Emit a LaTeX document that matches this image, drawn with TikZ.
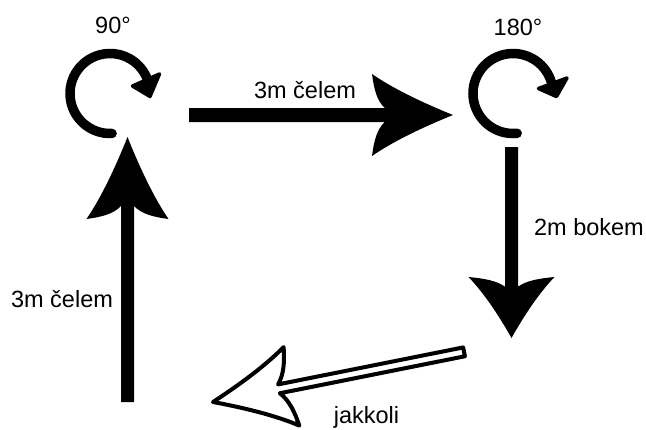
\documentclass[tikz,border=0pt]{standalone}
\usepackage{fontspec}
\setmainfont{Liberation Sans}
\begin{document}
\begin{tikzpicture}[x=1pt,y=-1pt,
  lbl/.style={font=\fontsize{23.5}{28}\selectfont, anchor=base, inner sep=0pt},
  filledarrow/.style={fill=black},
  hollowarrow/.style={draw=black, fill=white, line width=4pt, line join=round},
  turnarc/.style={draw=black, line width=9.5pt, line cap=round},
  turnhead/.style={fill=black, draw=black, line width=3.5pt, line join=round},
  pics/arrowshape/.style n args={4}{code={
    \path[pic actions] (0,0)
      .. controls ({-0.366*#2},{-0.293*#3}) and ({-0.732*#2},{-0.634*#3}) .. ({-#2},{-#3})
      .. controls ({-0.976*#2},{-0.634*#3}) and ({-0.939*#2},{-0.341*#3}) .. ({-0.841*#2},{-#4})
      -- ({-#1},{-#4}) -- ({-#1},{#4}) -- ({-0.841*#2},{#4})
      .. controls ({-0.939*#2},{0.341*#3}) and ({-0.976*#2},{0.634*#3}) .. ({-#2},{#3})
      .. controls ({-0.732*#2},{0.634*#3}) and ({-0.366*#2},{0.293*#3}) .. (0,0) -- cycle;
  }}
]
\fill[white] (0,0) rectangle (646,429);
\useasboundingbox (0,0) rectangle (646,429);

% rotation icons
\coordinate (c90) at (110,93.5);
\coordinate (c180) at (513,93.5);
\draw[turnarc] (c90) ++(87:40) arc[start angle=87, end angle=340, radius=40];
\path[turnhead] (132.5,86) -- (159.5,74) -- (150,96.5) -- cycle;
\draw[turnarc] (c180) ++(84:40) arc[start angle=84, end angle=345, radius=40];
\path[turnhead] (538.5,88.5) -- (567,78) -- (556.5,96.5) -- cycle;

\node[lbl] (deg90) at (113,33) {90°};
\node[lbl] (deg180) at (518,35) {180°};

% arrows (tips)
\coordinate (tipTop) at (453,115);
\coordinate (tipRight) at (511.5,338);
\coordinate (tipLeft) at (127.5,137);
\coordinate (tipBottom) at (213,402);

\pic[filledarrow] at (tipTop) {arrowshape={264}{81}{41}{7}};
\pic[filledarrow, rotate=-90] at (tipRight) {arrowshape={191}{61}{43}{6.5}};
\pic[filledarrow, rotate=90] at (tipLeft) {arrowshape={265}{82}{41}{6.5}};
\pic[hollowarrow, rotate=191.3] at (tipBottom) {arrowshape={256}{80}{40}{4.5}};

% labels
\node[lbl] (lTop) at (305,98) {3m čelem};
\node[lbl] (lRight) at (589,235) {2m bokem};
\node[lbl] (lLeft) at (62,307) {3m čelem};
\node[lbl] (lBottom) at (366.5,423) {jakkoli};
\end{tikzpicture}
\end{document}
